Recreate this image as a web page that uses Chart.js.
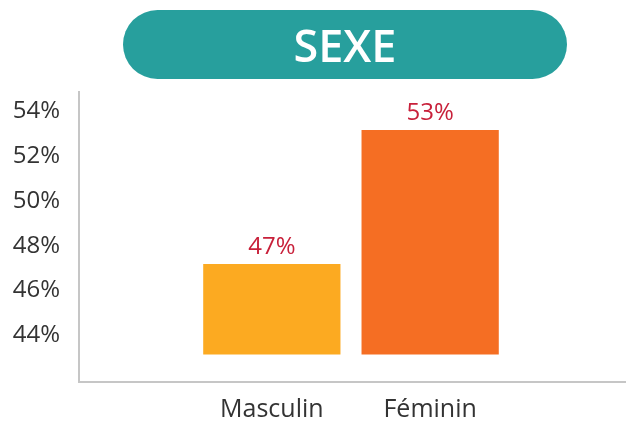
<!DOCTYPE html>
<html>
<head>
<meta charset="utf-8">
<script src="https://cdn.jsdelivr.net/npm/chart.js@4/dist/chart.umd.min.js"></script>
<style>
  html, body { margin: 0; padding: 0; background: #ffffff; }
  #wrap { position: relative; width: 626px; height: 423px; }
  #title {
    position: absolute; left: 123px; top: 10px; width: 444px; height: 69px;
    border-radius: 35px; background: #279f9d; color: #ffffff;
    font-family: "Open Sans", sans-serif; font-weight: 600; font-size: 45px;
    line-height: 69px; text-align: center; letter-spacing: 0px;
  }
  canvas { position: absolute; left: 0; top: 0; }
</style>
</head>
<body>
<div id="wrap">
  <canvas id="c" width="626" height="423"></canvas>
  <div id="title">SEXE</div>
</div>
<script>
const categories = ['Masculin', 'Féminin'];
const values = [47, 53];
const barColors = ['#fcaa21', '#f56e23'];
const yTicks = [44, 46, 48, 50, 52, 54];
const barBase = 42.95;

const labelPlugin = {
  id: 'valueLabels',
  afterDatasetsDraw(chart) {
    const ctx = chart.ctx;
    const meta = chart.getDatasetMeta(0);
    ctx.save();
    ctx.font = '24px "Open Sans", sans-serif';
    ctx.fillStyle = '#c8203a';
    ctx.textAlign = 'center';
    ctx.textBaseline = 'alphabetic';
    meta.data.forEach((el, i) => {
      ctx.fillText(values[i] + '%', el.x, el.y - 10);
    });
    ctx.restore();
  }
};

new Chart(document.getElementById('c'), {
  type: 'bar',
  data: {
    datasets: [{
      data: categories.map((c, i) => ({ x: i + 1, y: values[i] })),
      base: barBase,
      backgroundColor: barColors,
      borderWidth: 0,
      barPercentage: 0.867,
      categoryPercentage: 1
    }]
  },
  options: {
    responsive: false,
    animation: false,
    layout: { padding: { top: 92, left: 0, right: 0, bottom: 0 } },
    plugins: { legend: { display: false }, tooltip: { enabled: false } },
    scales: {
      x: {
        type: 'linear',
        offset: false,
        min: -0.218,
        max: 3.237,
        grid: { display: false, drawTicks: false },
        border: { display: true, color: '#c6c6c6', width: 2 },
        afterBuildTicks(scale) { scale.ticks = categories.map((c, i) => ({ value: i + 1 })); },
        afterFit(scale) { scale.height = 41; },
        ticks: {
          padding: 13,
          color: '#333333',
          font: { family: '"Open Sans", sans-serif', size: 25 },
          autoSkip: false,
          maxRotation: 0,
          callback: (v) => categories[v - 1] !== undefined ? categories[v - 1] : ''
        }
      },
      y: {
        min: 41.72,
        max: 54.7,
        grid: { display: false, drawTicks: false },
        border: { display: true, color: '#c6c6c6', width: 2 },
        afterBuildTicks(scale) { scale.ticks = yTicks.map(v => ({ value: v })); },
        afterFit(scale) { scale.width = 79; },
        ticks: {
          padding: 19,
          labelOffset: 4,
          color: '#333333',
          font: { family: '"Open Sans", sans-serif', size: 24 },
          callback: (v) => v + '%'
        }
      }
    }
  },
  plugins: [labelPlugin]
});
</script>
</body>
</html>
